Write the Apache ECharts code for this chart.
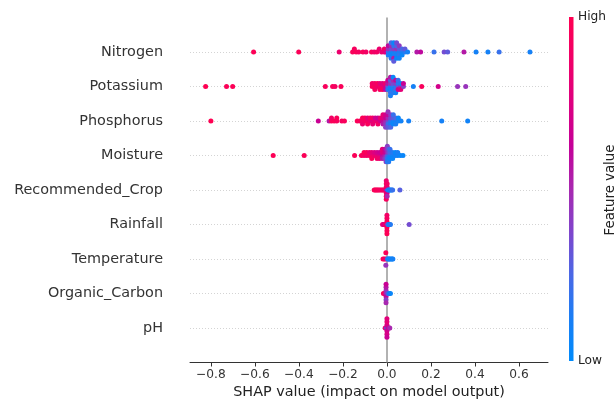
<!DOCTYPE html>
<html>
<head>
<meta charset="utf-8">
<script src="https://cdn.jsdelivr.net/npm/echarts@6/dist/echarts.min.js"></script>
<style>
  html, body { margin: 0; padding: 0; background: #fff; }
  #chart { width: 616px; height: 406px; }
</style>
</head>
<body>
<div id="chart"></div>
<script>
// feature names, top to bottom
const features = ['Nitrogen', 'Potassium', 'Phosphorus', 'Moisture', 'Recommended_Crop',
  'Rainfall', 'Temperature', 'Organic_Carbon', 'pH'];

// tick values on the SHAP axis
const xTicks = [-0.8, -0.6, -0.4, -0.2, 0.0, 0.2, 0.4, 0.6];

// [shap value, feature value (0 low .. 1 high)]
const nitrogen = [
  [-0.606, 0.98], [-0.401, 0.97], [-0.217, 0.85], [-0.156, 0.95], [-0.148, 0.93], [-0.140, 0.96],
  [-0.128, 0.92], [-0.109, 0.95], [-0.095, 0.90], [-0.070, 0.93], [-0.058, 0.88], [-0.046, 0.90],
  [-0.035, 0.85], [-0.024, 0.82], [-0.012, 0.80], [-0.012, 0.88], [-0.005, 0.75],
  [0.006, 0.20], [0.006, 0.45], [0.006, 0.12], [0.006, 0.60],
  [0.019, 0.10], [0.019, 0.35], [0.019, 0.05], [0.019, 0.50], [0.019, 0.15], [0.019, 0.25],
  [0.031, 0.08], [0.031, 0.40], [0.031, 0.12], [0.031, 0.20], [0.031, 0.55], [0.031, 0.05],
  [0.031, 0.30],
  [0.044, 0.15], [0.044, 0.45], [0.044, 0.10], [0.044, 0.25], [0.044, 0.05], [0.044, 0.35],
  [0.056, 0.10], [0.056, 0.30], [0.056, 0.18], [0.056, 0.42], [0.056, 0.08],
  [0.069, 0.12], [0.069, 0.25], [0.069, 0.05],
  [0.082, 0.15], [0.082, 0.30], [0.094, 0.10],
  [0.136, 0.55], [0.153, 0.60], [0.214, 0.20], [0.260, 0.35], [0.276, 0.30], [0.350, 0.55],
  [0.405, 0.10], [0.459, 0.10], [0.510, 0.20], [0.650, 0.10]
];
const potassium = [
  [-0.824, 1.00], [-0.729, 0.97], [-0.701, 0.98], [-0.280, 0.95], [-0.247, 0.95], [-0.236, 0.92],
  [-0.209, 0.96],
  [-0.067, 0.95], [-0.067, 0.90], [-0.055, 0.97], [-0.055, 0.88], [-0.055, 0.92],
  [-0.043, 0.85], [-0.043, 0.95], [-0.032, 0.90], [-0.032, 0.80], [-0.032, 0.93],
  [-0.020, 0.85], [-0.020, 0.75], [-0.020, 0.95], [-0.008, 0.70], [-0.008, 0.85], [-0.008, 0.60],
  [0.004, 0.30], [0.004, 0.55], [0.004, 0.15], [0.004, 0.65],
  [0.016, 0.10], [0.016, 0.45], [0.016, 0.05], [0.016, 0.30], [0.016, 0.20], [0.016, 0.55],
  [0.016, 0.12],
  [0.028, 0.20], [0.028, 0.35], [0.028, 0.08], [0.028, 0.50], [0.028, 0.15], [0.028, 0.05],
  [0.040, 0.12], [0.040, 0.40], [0.040, 0.25], [0.040, 0.60], [0.040, 0.10],
  [0.051, 0.35], [0.051, 0.15], [0.051, 0.70], [0.051, 0.20],
  [0.063, 0.50], [0.063, 0.10], [0.063, 0.80],
  [0.075, 0.40], [0.075, 0.65],
  [0.120, 0.10], [0.158, 0.95], [0.233, 0.70], [0.321, 0.45], [0.358, 0.45]
];
const phosphorus = [
  [-0.800, 1.00], [-0.312, 0.65], [-0.263, 0.55], [-0.252, 0.95], [-0.252, 0.90], [-0.240, 0.97],
  [-0.228, 0.93], [-0.228, 0.96], [-0.205, 0.92], [-0.193, 0.95], [-0.135, 0.97],
  [-0.123, 0.95], [-0.111, 0.90], [-0.111, 0.97], [-0.111, 0.85], [-0.100, 0.92], [-0.100, 0.96],
  [-0.088, 0.90], [-0.088, 0.80], [-0.088, 0.95], [-0.076, 0.85], [-0.076, 0.93],
  [-0.065, 0.75], [-0.065, 0.90], [-0.065, 0.82], [-0.053, 0.85], [-0.053, 0.70],
  [-0.041, 0.80], [-0.041, 0.65], [-0.041, 0.90], [-0.030, 0.70], [-0.030, 0.85],
  [-0.018, 0.60], [-0.018, 0.75], [-0.018, 0.55], [-0.018, 0.80],
  [-0.006, 0.50], [-0.006, 0.65], [-0.006, 0.45], [-0.006, 0.70], [-0.006, 0.40],
  [0.005, 0.35], [0.005, 0.50], [0.005, 0.20], [0.005, 0.60], [0.005, 0.30], [0.005, 0.45],
  [0.017, 0.15], [0.017, 0.35], [0.017, 0.10], [0.017, 0.40], [0.017, 0.25],
  [0.029, 0.10], [0.029, 0.30], [0.029, 0.05], [0.029, 0.20],
  [0.040, 0.08], [0.040, 0.25], [0.040, 0.12],
  [0.052, 0.10], [0.052, 0.05], [0.064, 0.08],
  [0.099, 0.10], [0.249, 0.10], [0.367, 0.08]
];
const moisture = [
  [-0.517, 0.98], [-0.376, 0.97], [-0.147, 0.97],
  [-0.116, 0.95], [-0.104, 0.90], [-0.104, 0.97], [-0.092, 0.88], [-0.092, 0.95],
  [-0.080, 0.92], [-0.080, 0.85], [-0.069, 0.90], [-0.069, 0.80], [-0.069, 0.95],
  [-0.057, 0.85], [-0.057, 0.75], [-0.045, 0.80], [-0.045, 0.70], [-0.045, 0.88],
  [-0.033, 0.75], [-0.033, 0.65], [-0.033, 0.85],
  [-0.021, 0.60], [-0.021, 0.75], [-0.021, 0.55], [-0.021, 0.80],
  [-0.010, 0.55], [-0.010, 0.70], [-0.010, 0.45], [-0.010, 0.65],
  [-0.004, 0.45], [-0.004, 0.60], [-0.004, 0.35], [-0.004, 0.55], [-0.004, 0.40],
  [0.002, 0.30], [0.002, 0.50], [0.002, 0.20], [0.002, 0.45], [0.002, 0.15], [0.002, 0.40],
  [0.008, 0.20], [0.008, 0.35], [0.008, 0.10], [0.008, 0.30], [0.008, 0.15],
  [0.014, 0.10], [0.014, 0.25], [0.014, 0.05], [0.014, 0.20],
  [0.026, 0.08], [0.026, 0.15], [0.026, 0.05],
  [0.038, 0.10], [0.038, 0.05], [0.049, 0.08], [0.049, 0.12], [0.061, 0.05], [0.073, 0.05]
];
const recommendedCrop = [
  [-0.058, 0.97], [-0.053, 0.95], [-0.048, 0.97], [-0.043, 0.93], [-0.038, 0.96], [-0.032, 0.90],
  [-0.026, 0.95], [-0.020, 0.92], [-0.015, 0.88], [-0.010, 0.90], [-0.006, 0.85],
  [-0.003, 0.60], [-0.003, 0.97], [-0.003, 0.95], [-0.003, 0.90], [-0.003, 0.96], [-0.003, 0.85],
  [-0.003, 0.93],
  [0.001, 0.30], [0.001, 0.80], [0.001, 0.70], [0.001, 0.90], [0.001, 0.50],
  [0.005, 0.10], [0.009, 0.05], [0.013, 0.15], [0.017, 0.05], [0.022, 0.10], [0.026, 0.20],
  [0.059, 0.28]
];
const rainfall = [
  [-0.020, 0.85], [-0.014, 0.70], [-0.008, 0.90], [-0.003, 0.95],
  [0.000, 0.60], [0.000, 0.95], [0.000, 0.97], [0.000, 0.92], [0.000, 0.96], [0.000, 0.90],
  [0.000, 0.98],
  [0.004, 0.30], [0.008, 0.10], [0.012, 0.05], [0.016, 0.15], [0.101, 0.35]
];
const temperature = [
  [-0.018, 0.97], [-0.012, 0.92], [-0.005, 0.85], [-0.005, 0.97], [-0.005, 0.45],
  [0.003, 0.20], [0.006, 0.05], [0.010, 0.10], [0.014, 0.05], [0.019, 0.10], [0.024, 0.05],
  [0.027, 0.10]
];
const organicCarbon = [
  [-0.016, 0.95], [-0.010, 0.90],
  [-0.004, 0.50], [-0.004, 0.45], [-0.004, 0.60], [-0.004, 0.55], [-0.004, 0.40], [-0.004, 0.65],
  [-0.004, 0.50],
  [0.004, 0.30], [0.010, 0.10], [0.016, 0.05]
];
const ph = [
  [-0.008, 0.80], [-0.004, 0.75],
  [0.000, 0.10], [0.000, 0.75], [0.000, 0.70], [0.000, 0.80], [0.000, 0.72], [0.000, 0.78],
  [0.000, 0.65],
  [0.004, 0.60], [0.010, 0.70], [0.013, 0.50]
];

const rows = [nitrogen, potassium, phosphorus, moisture, recommendedCrop, rainfall,
  temperature, organicCarbon, ph];

// low -> high feature value colours
const colorRamp = ['#008bfb', '#1a7ef5', '#4a68e6', '#7f45cc', '#a828b0',
  '#c40098', '#dd0080', '#f00068', '#ff0052'];

// shap-style beeswarm: stack points that share a bin, alternating up / down
function swarm(points, pos) {
  const xs = points.map(p => p[0]);
  const mn = Math.min(...xs), mx = Math.max(...xs);
  const quant = xs.map(x => Math.round(100 * (x - mn) / (mx - mn + 1e-8)));
  const inds = xs.map((_, i) => i).sort((a, b) => quant[a] - quant[b] || a - b);
  const ys = new Array(points.length).fill(0);
  let layer = 0, last = -1;
  inds.forEach(i => {
    if (quant[i] !== last) layer = 0;
    ys[i] = Math.ceil(layer / 2) * ((layer % 2) * 2 - 1);
    layer++;
    last = quant[i];
  });
  const m = Math.max(...ys.map(y => y + 1));
  const k = 0.9 * (0.4 / m);
  return points.map((p, i) => [p[0], pos + ys[i] * k, p[1]]);
}

const n = features.length;
let data = [];
rows.forEach((r, i) => { data = data.concat(swarm(r, n - 1 - i)); });

const chart = echarts.init(document.getElementById('chart'));
const font = 'DejaVu Sans';

const option = {
  animation: false,
  textStyle: { fontFamily: font },
  grid: { left: 190, right: 68, top: 17.5, bottom: 43.5 },
  xAxis: {
    type: 'value',
    min: -0.895,
    max: 0.732,
    splitLine: { show: false },
    axisLine: { onZero: false, lineStyle: { color: '#333333', width: 1 } },
    axisTick: { customValues: xTicks, length: 4, lineStyle: { color: '#333333' } },
    axisLabel: {
      customValues: xTicks,
      fontSize: 12.2,
      color: '#333333',
      margin: 6,
      formatter: v => v.toFixed(1).replace('-', '\u2212')
    },
    name: 'SHAP value (impact on model output)',
    nameLocation: 'middle',
    nameGap: 21,
    nameTextStyle: { fontSize: 14.4, color: '#222222' }
  },
  yAxis: {
    type: 'value',
    min: -1,
    max: n,
    interval: 1,
    splitLine: { show: false },
    axisLine: { show: false, onZero: false },
    axisTick: { show: false },
    axisLabel: {
      fontSize: 14.4,
      color: '#333333',
      margin: 27,
      formatter: v => (v >= 0 && v < n) ? features[n - 1 - v] : ''
    }
  },
  visualMap: {
    show: false,
    type: 'continuous',
    min: 0,
    max: 1,
    dimension: 2,
    seriesIndex: 1,
    inRange: { color: colorRamp }
  },
  graphic: [
    {
      type: 'rect',
      shape: { x: 569, y: 17, width: 4.5, height: 344 },
      style: {
        fill: new echarts.graphic.LinearGradient(0, 0, 0, 1,
          colorRamp.slice().reverse().map((c, i) => ({ offset: i / (colorRamp.length - 1), color: c })))
      }
    },
    { type: 'text', left: 578, top: 11, style: { text: 'High', font: '12.2px ' + font, fill: '#222' } },
    { type: 'text', left: 578, top: 355, style: { text: 'Low', font: '12.2px ' + font, fill: '#222' } },
    {
      type: 'text', x: 611, y: 190, rotation: Math.PI / 2,
      style: { text: 'Feature value', font: '13.3px ' + font, fill: '#222', align: 'center', verticalAlign: 'middle' }
    }
  ],
  series: [
    {
      type: 'line',
      data: [],
      silent: true,
      markLine: {
        z: 1,
        silent: true,
        symbol: 'none',
        label: { show: false },
        animation: false,
        data: features.map((_, i) => ({
          yAxis: i,
          lineStyle: { color: '#d4d4d4', width: 1, type: [1, 2] }
        })).concat([{ xAxis: 0, lineStyle: { color: '#999999', width: 1.5, type: 'solid' } }])
      }
    },
    {
      type: 'scatter',
      z: 3,
      symbolSize: 5,
      itemStyle: { opacity: 1 },
      data: data
    }
  ]
};

chart.setOption(option);
</script>
</body>
</html>
